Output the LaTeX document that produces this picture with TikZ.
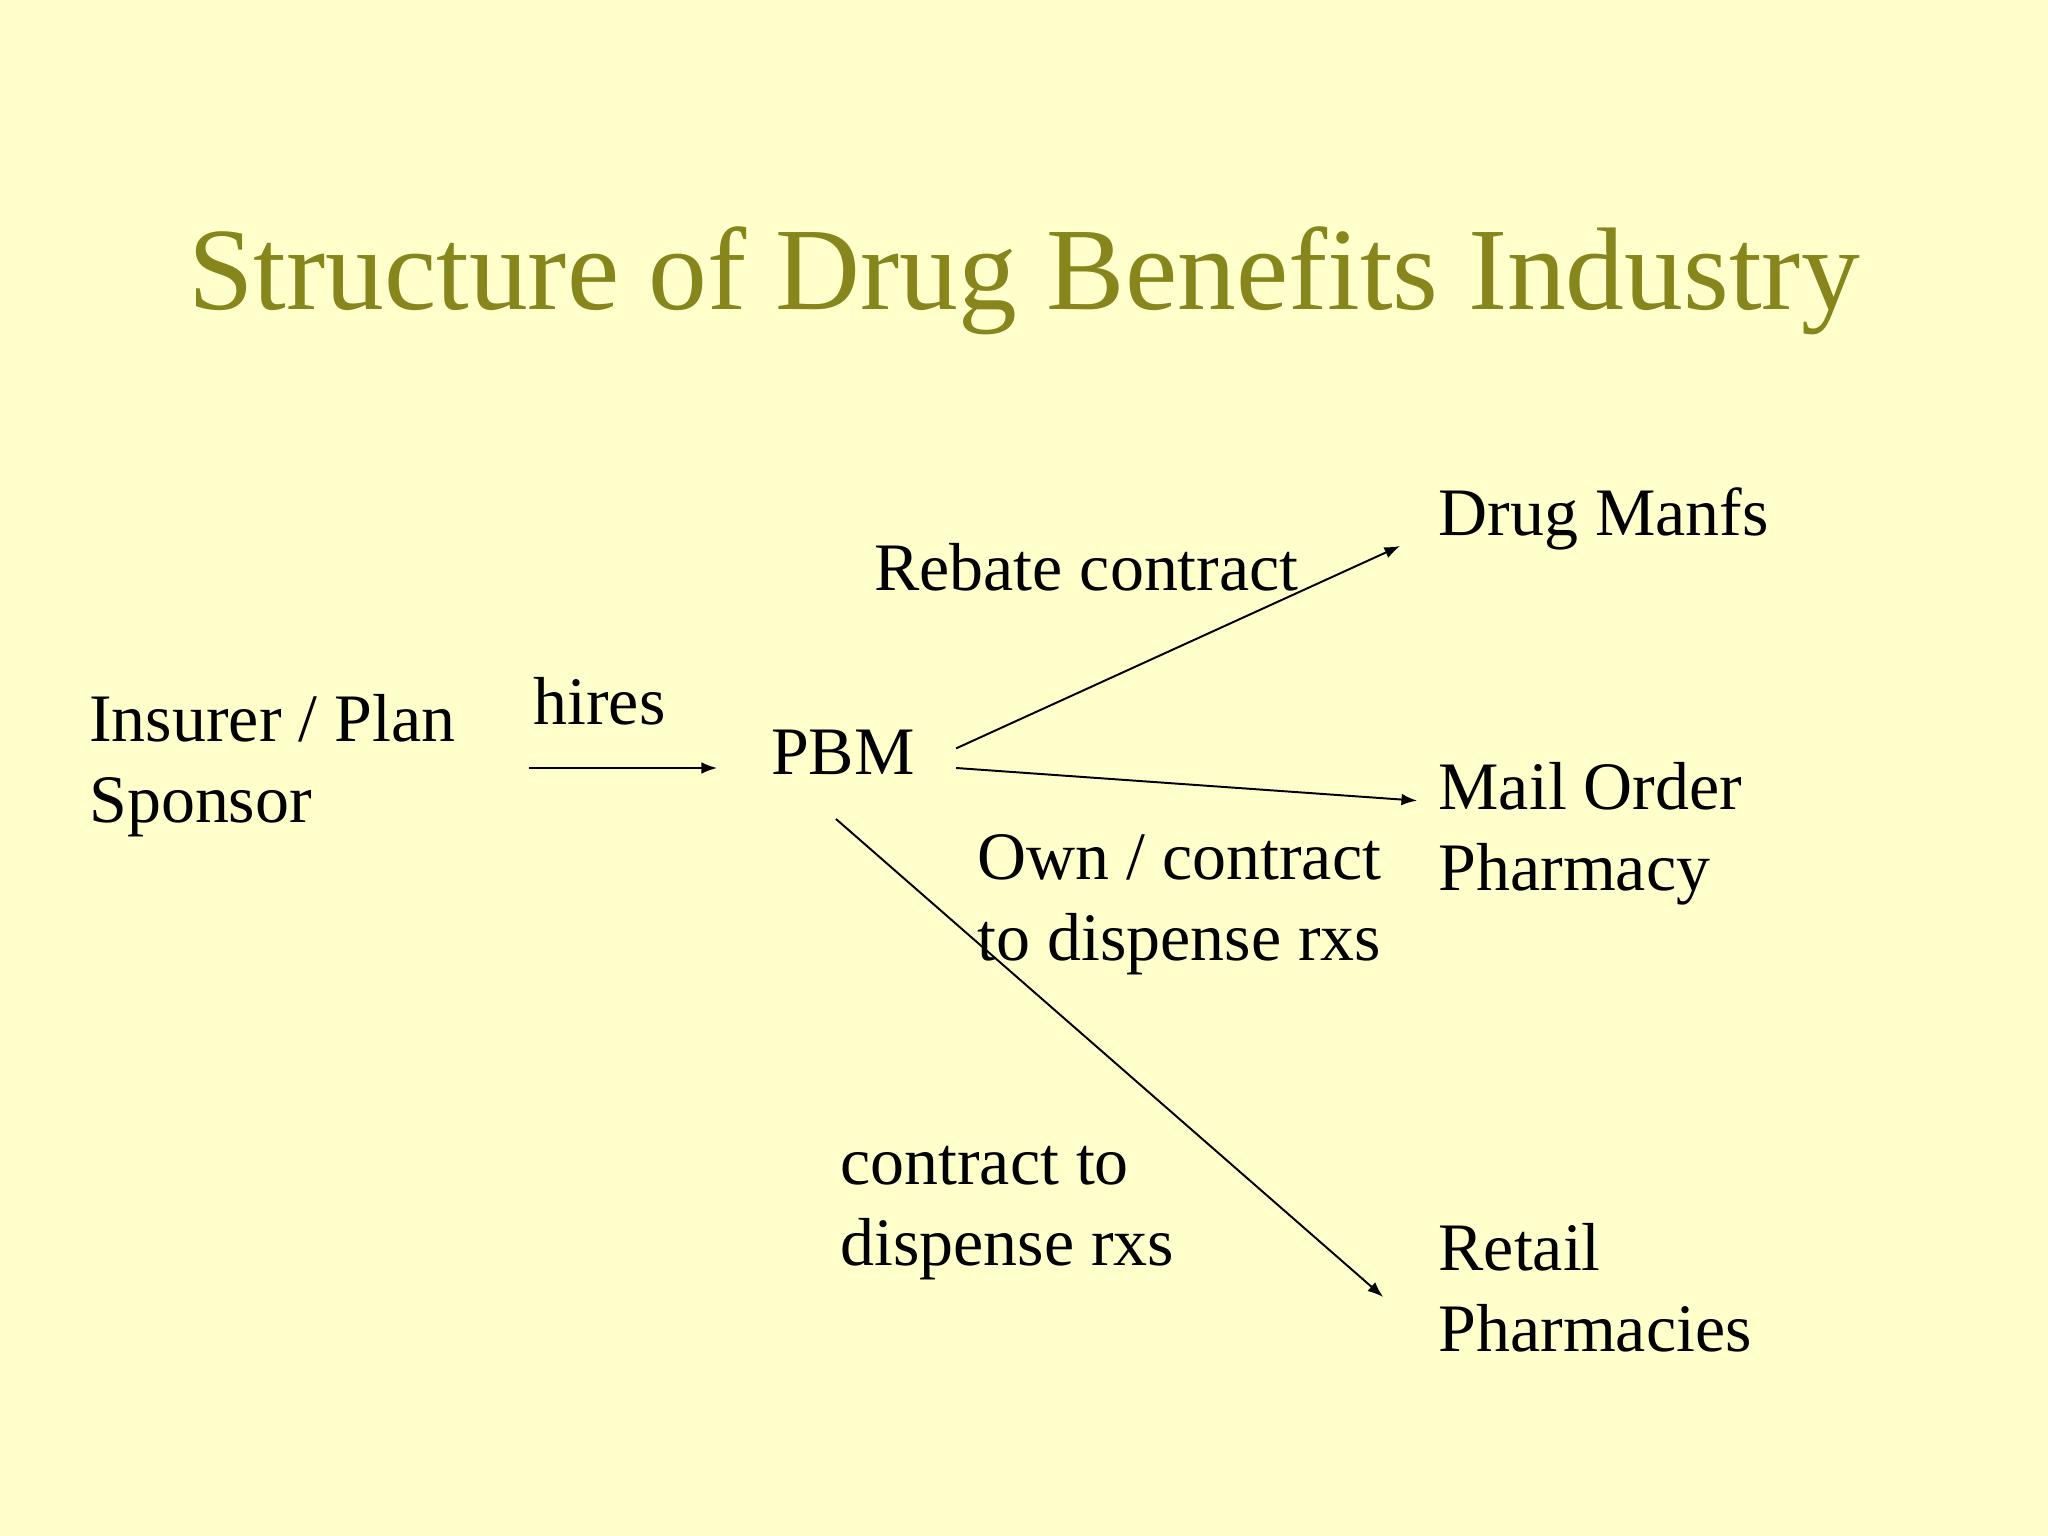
\documentclass[tikz,border=0pt]{standalone}
\usepackage{fontspec}
\setmainfont{Liberation Serif}
\usetikzlibrary{arrows.meta}
\definecolor{bg}{HTML}{FFFFCC}
\definecolor{ttl}{HTML}{86861C}
\begin{document}
\begin{tikzpicture}[x=0.5pt,y=-0.5pt,
  lbl/.style={anchor=base west,inner sep=0pt,font=\fontsize{26}{31}\selectfont},
  arr/.style={line width=0.75pt,-{Latex[length=6pt,width=4.5pt]}}]
\fill[bg] (0,0) rectangle (1568,1176);
\useasboundingbox (0,0) rectangle (1568,1176);
\node[anchor=base,inner sep=0pt,text=ttl,font=\fontsize{45}{54}\selectfont] (title) at (784,237) {Structure of Drug Benefits Industry};
\node[lbl] (ins1) at (68,568) {Insurer / Plan};
\node[lbl] (ins2) at (68,630) {Sponsor};
\node[lbl] (hires) at (408,555) {hires};
\node[lbl] (pbm) at (590,593) {PBM};
\node[lbl] (dm) at (1101,410) {Drug Manfs};
\node[lbl] (reb) at (669,452) {Rebate contract};
\node[lbl] (mo1) at (1101,620) {Mail Order};
\node[lbl] (mo2) at (1101,682) {Pharmacy};
\node[lbl] (own1) at (748,673) {Own / contract};
\node[lbl] (own2) at (748,735) {to dispense rxs};
\node[lbl] (ct1) at (643,907) {contract to};
\node[lbl] (ct2) at (643,969) {dispense rxs};
\node[lbl] (rp1) at (1101,973) {Retail};
\node[lbl] (rp2) at (1101,1035) {Pharmacies};
\coordinate (a1) at (405,588); \coordinate (a2) at (549,588);
\coordinate (b1) at (732,573); \coordinate (b2) at (1072,418);
\coordinate (c1) at (732,588); \coordinate (c2) at (1085,613);
\coordinate (d1) at (640,627); \coordinate (d2) at (1059,993);
\draw[arr] (a1) -- (a2);
\draw[arr] (b1) -- (b2);
\draw[arr] (c1) -- (c2);
\draw[arr] (d1) -- (d2);
\end{tikzpicture}
\end{document}
